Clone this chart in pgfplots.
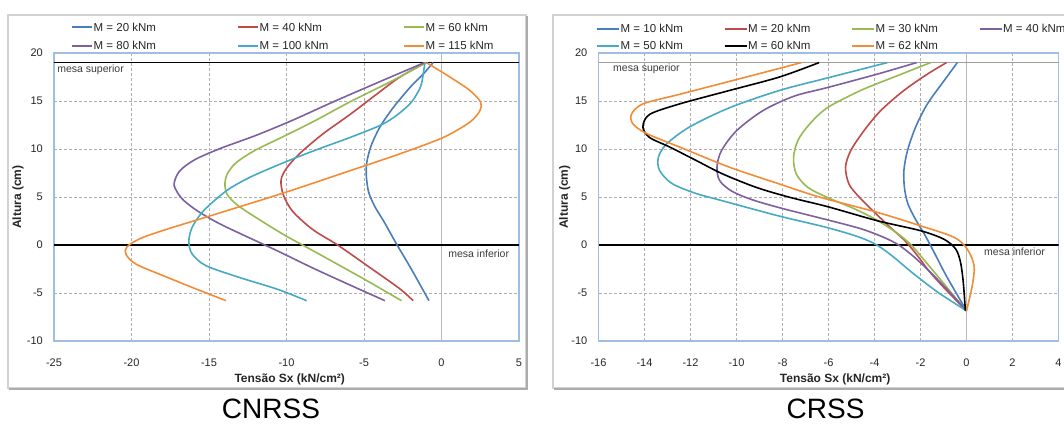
\documentclass[border=0pt]{standalone}
\usepackage{fontspec}
\setmainfont{Liberation Sans}
\usepackage{pgfplots}
\pgfplotsset{compat=1.18}
\definecolor{cblue}{RGB}{74,126,187}
\definecolor{cred}{RGB}{190,75,72}
\definecolor{cgreen}{RGB}{152,185,84}
\definecolor{cpurple}{RGB}{125,96,160}
\definecolor{ccyan}{RGB}{70,170,197}
\definecolor{corange}{RGB}{243,140,55}
\definecolor{axisblue}{RGB}{160,190,225}
\definecolor{gridgray}{RGB}{175,175,175}
\definecolor{txtgray}{RGB}{60,60,60}
\pgfplotsset{
  excel/.style={
    scale only axis, height=288pt,
    ymin=-10, ymax=20, ytick={-10,-5,0,5,10,15,20},
    yticklabels={-10,-5,0,5,10,15,20},
    grid=major,
    major grid style={dash pattern=on 3pt off 2pt, color=gridgray, line width=0.8pt},
    axis line style={draw=axisblue, line width=1.2pt},
    major tick length=0pt, tick style={draw=none},
    ticklabel style={font=\fontsize{11}{13}\selectfont, text=black!85, inner sep=0pt},
    xticklabel style={anchor=center, yshift=-21.5pt},
    yticklabel style={anchor=east, xshift=-11pt},
    xlabel style={font=\bfseries\fontsize{12}{14}\selectfont, text=black!85, anchor=center},
    ylabel style={font=\bfseries\fontsize{12}{14}\selectfont, text=black!85, anchor=center},
    every axis plot/.append style={line width=1.6pt, smooth, no markers},
    legend cell align=left,
    legend style={draw=none, fill=none, inner sep=0pt, column sep=0pt,
      font=\fontsize{11.5}{13}\selectfont, text=black!85,
      nodes={inner sep=0.5pt, text height=9pt, text depth=1.5pt}},
  },
  refline/.style={sharp plot, forget plot, line width=1.1pt},
}
\begin{document}
\begin{tikzpicture}[x=1pt,y=1pt]
\useasboundingbox (0,0) rectangle (1064,423);
\fill[white] (0,0) rectangle (1064,423);
% outer frames
\draw[gray!35, line width=1.2pt] (8,35) rectangle (526,408);
\draw[gray!65, line width=1.6pt] (9,33.8) -- (527.2,33.8) -- (527.2,407);
\draw[gray!35, line width=1.2pt] (553,35) rectangle (1075,408);
\draw[gray!65, line width=1.6pt] (554,33.8) -- (1075,33.8);

%================ LEFT: CNRSS =================
\begin{axis}[excel, at={(54pt,82pt)}, anchor=south west, width=465pt,
  xmin=-25, xmax=5, xtick={-25,-20,-15,-10,-5,0,5},
  xticklabels={-25,-20,-15,-10,-5,0,5},
  xlabel={Tensão Sx (kN/cm²)}, ylabel={Altura (cm)},
  xlabel style={at={(axis description cs:0.507,-0.132)}},
  ylabel style={at={(axis description cs:-0.0774,0.5)}},
  legend columns=3,
  legend image code/.code={\draw[#1, line width=2pt] (0pt,0pt) -- (20pt,0pt);},
  legend style={at={(axis description cs:0.0366,1.057)}, anchor=west, row sep=7.1pt},
]
\addplot[refline, color=gray!55] coordinates {(0,-10) (0,20)};
\addplot[refline, color=black] coordinates {(-25,19) (5,19)};
\addplot[refline, color=black] coordinates {(-25,0) (5,0)};
\addplot[cblue] coordinates {(-0.54,19) (-1.18,17.8) (-2.04,16.4) (-3.12,14.3) (-3.97,12.3) (-4.55,10.3) (-4.82,8.6) (-4.85,7.2) (-4.7,5.5) (-4.3,4.0) (-3.7,2.4) (-2.9,0.1) (-1.95,-2.5) (-0.81,-5.8)};
\addlegendentry{\makebox[143pt][l]{M = 20 kNm}}
\addplot[cred] coordinates {(-1.0,19) (-2.68,17.5) (-4.19,15.7) (-5.9,13.6) (-7.63,11.6) (-9.1,9.6) (-9.95,8.1) (-10.35,6.8) (-10.2,5.2) (-9.6,3.5) (-8.3,1.6) (-6.7,0) (-4.84,-2.1) (-2.74,-4.5) (-1.83,-5.8)};
\addlegendentry{\makebox[143pt][l]{M = 40 kNm}}
\addplot[cgreen] coordinates {(-1.0,19) (-3.3,17) (-5.8,15) (-8.1,13.0) (-10.2,11.3) (-12.1,9.8) (-13.3,8.5) (-13.85,7.3) (-13.97,6.2) (-13.8,5.2) (-13.2,4.2) (-12.2,3.1) (-10.2,1.1) (-8.06,-0.8) (-5.05,-3.5) (-2.58,-5.8)};
\addlegendentry{\makebox[143pt][l]{M = 60 kNm}}
\addplot[cpurple] coordinates {(-1.1,19) (-4.0,17.0) (-7.0,14.9) (-9.6,13.0) (-12.0,11.4) (-14.2,10.1) (-15.9,8.9) (-16.9,7.7) (-17.25,6.4) (-17.05,5.5) (-16.6,4.6) (-15.7,3.5) (-14.3,2.2) (-12.6,0.9) (-10.6,-0.6) (-8.3,-2.4) (-6.0,-4.1) (-3.65,-5.8)};
\addlegendentry{\makebox[143pt][l]{M = 80 kNm}}
\addplot[ccyan] coordinates {(-1.07,19) (-1.29,16.8) (-1.6,15.7) (-2.04,14.7) (-2.9,13.5) (-3.9,12.5) (-5.9,11.2) (-8.1,9.9) (-10.3,8.5) (-12.3,7.1) (-13.65,5.9) (-14.6,4.7) (-15.5,3.3) (-16.1,1.8) (-16.3,0.4) (-16.1,-0.9) (-15.2,-2.15) (-13.0,-3.4) (-10.6,-4.6) (-8.7,-5.8)};
\addlegendentry{\makebox[143pt][l]{M = 100 kNm}}
\addplot[corange] coordinates {(-0.97,19) (0.54,17.5) (1.83,16.1) (2.52,14.9) (2.48,14.0) (1.83,12.8) (0.11,11.2) (-2.68,9.5) (-5.9,7.74) (-9.1,6.0) (-11.2,4.9) (-13.4,3.8) (-15.6,2.7) (-17.8,1.6) (-19.4,0.7) (-20.3,-0.2) (-20.35,-1.0) (-19.7,-2.0) (-17.95,-3.2) (-15.8,-4.6) (-13.9,-5.8)};
\addlegendentry{\makebox[143pt][l]{M = 115 kNm}}
\node[anchor=west, font=\fontsize{10.5}{12}\selectfont, text=txtgray, inner sep=0pt] at (axis cs:-24.8,18.2) {mesa superior};
\node[anchor=west, font=\fontsize{10.5}{12}\selectfont, text=txtgray, inner sep=0pt] at (axis cs:0.43,-0.94) {mesa inferior};
\end{axis}

%================ RIGHT: CRSS =================
\begin{axis}[excel, at={(598.5pt,82pt)}, anchor=south west, width=460pt,
  xmin=-16, xmax=4, xtick={-16,-14,-12,-10,-8,-6,-4,-2,0,2,4},
  xticklabels={-16,-14,-12,-10,-8,-6,-4,-2,0,2,4},
  xlabel={Tensão Sx (kN/cm²)}, ylabel={Altura (cm)},
  xlabel style={at={(axis description cs:0.5145,-0.132)}},
  ylabel style={at={(axis description cs:-0.0731,0.5)}},
  legend columns=4,
  legend image code/.code={\draw[#1, line width=2pt] (0pt,0pt) -- (22pt,0pt);},
  legend style={at={(axis description cs:-0.0054,1.0545)}, anchor=west, row sep=5.9pt},
]
\addplot[refline, color=gray!55] coordinates {(0,-10) (0,20)};
\addplot[refline, color=gray!75, line width=1.6pt] coordinates {(-16,19) (4,19)};
\addplot[refline, color=black] coordinates {(-16,0) (4,0)};
\addplot[cblue] coordinates {(-0.4,19) (-0.98,17.1) (-1.7,14.7) (-2.21,12.3) (-2.57,9.8) (-2.72,7.8) (-2.7,6.0) (-2.55,4.3) (-2.2,2.6) (-1.8,1.0) (-1.4,-0.8) (-0.95,-2.9) (-0.45,-5.0) (0,-6.85)};
\addlegendentry{\makebox[102.5pt][l]{M = 10 kNm}}
\addplot[cred] coordinates {(-0.87,19) (-1.7,17.8) (-2.72,16.1) (-3.73,14.0) (-4.46,11.9) (-5.04,9.8) (-5.26,8.1) (-5.11,6.35) (-4.67,5.0) (-4.0,3.4) (-3.3,1.8) (-2.7,0.5) (-2.2,-0.9) (-1.6,-2.8) (-0.8,-4.9) (0,-6.85)};
\addlegendentry{\makebox[102.5pt][l]{M = 20 kNm}}
\addplot[cgreen] coordinates {(-1.56,19) (-3.15,17.5) (-4.6,16.1) (-6.05,14.3) (-6.82,12.6) (-7.33,10.9) (-7.52,9.1) (-7.4,7.4) (-6.9,6.0) (-6.0,4.9) (-4.9,3.8) (-3.9,2.6) (-3.0,1.2) (-2.4,0) (-1.9,-1.4) (-1.2,-3.4) (-0.55,-5.3) (0,-6.85)};
\addlegendentry{\makebox[102.5pt][l]{M = 30 kNm}}
\addplot[cpurple] coordinates {(-2.17,19) (-3.88,17.8) (-6.05,16.4) (-7.5,15.5) (-8.85,14.0) (-10.0,11.9) (-10.66,9.8) (-10.85,8.1) (-10.73,6.7) (-10.2,5.6) (-9.3,4.7) (-8.0,3.8) (-6.1,2.65) (-4.6,1.7) (-3.6,0.8) (-2.95,0) (-2.3,-1.2) (-1.5,-3.0) (-0.7,-5.0) (0,-6.85)};
\addlegendentry{\makebox[102.5pt][l]{M = 40 kNm}}
\addplot[ccyan] coordinates {(-3.44,19) (-6.05,17.4) (-8.13,16.1) (-10.3,14.3) (-12.04,12.3) (-13.05,10.5) (-13.4,9.1) (-13.34,7.74) (-12.8,6.4) (-11.8,5.4) (-10.6,4.6) (-8.2,3.05) (-6.1,1.84) (-4.7,0.85) (-3.9,0) (-3.2,-1.2) (-2.3,-3.0) (-1.2,-5.0) (0,-6.85)};
\addlegendentry{\makebox[102.5pt][l]{M = 50 kNm}}
\addplot[black] coordinates {(-6.41,19) (-8.13,17.5) (-10.3,16.1) (-12.47,14.7) (-13.78,13.6) (-14.07,12.3) (-13.78,11.2) (-12.9,10.2) (-11.75,8.8) (-10.6,7.4) (-9.14,6.0) (-7.69,4.97) (-6.05,4.0) (-3.88,2.53) (-2.0,1.49) (-0.98,0.6) (-0.47,-0.42) (-0.26,-1.8) (-0.14,-3.9) (-0.05,-6.85)};
\addlegendentry{\makebox[102.5pt][l]{M = 60 kNm}}
\addplot[corange] coordinates {(-7.18,19) (-9.57,17.5) (-12.47,15.7) (-14.07,14.7) (-14.57,13.6) (-14.5,12.6) (-13.9,11.6) (-12.47,10.2) (-10.3,8.1) (-8.13,6.35) (-6.4,5.0) (-3.88,3.4) (-2.0,2.0) (-0.54,0.8) (0.03,-0.42) (0.33,-2.15) (0.25,-4.24) (0,-6.85)};
\addlegendentry{\makebox[102.5pt][l]{M = 62 kNm}}
\node[anchor=west, font=\fontsize{10.5}{12}\selectfont, text=txtgray, inner sep=0pt] at (axis cs:-15.37,18.4) {mesa superior};
\node[anchor=west, font=\fontsize{10.5}{12}\selectfont, text=txtgray, inner sep=0pt] at (axis cs:0.76,-0.7) {mesa inferior};
\end{axis}

\node[anchor=base, font=\fontsize{28}{33}\selectfont, inner sep=0pt] at (271,5) {CNRSS};
\node[anchor=base, font=\fontsize{28}{33}\selectfont, inner sep=0pt] at (825.6,5) {CRSS};
\end{tikzpicture}
\end{document}
